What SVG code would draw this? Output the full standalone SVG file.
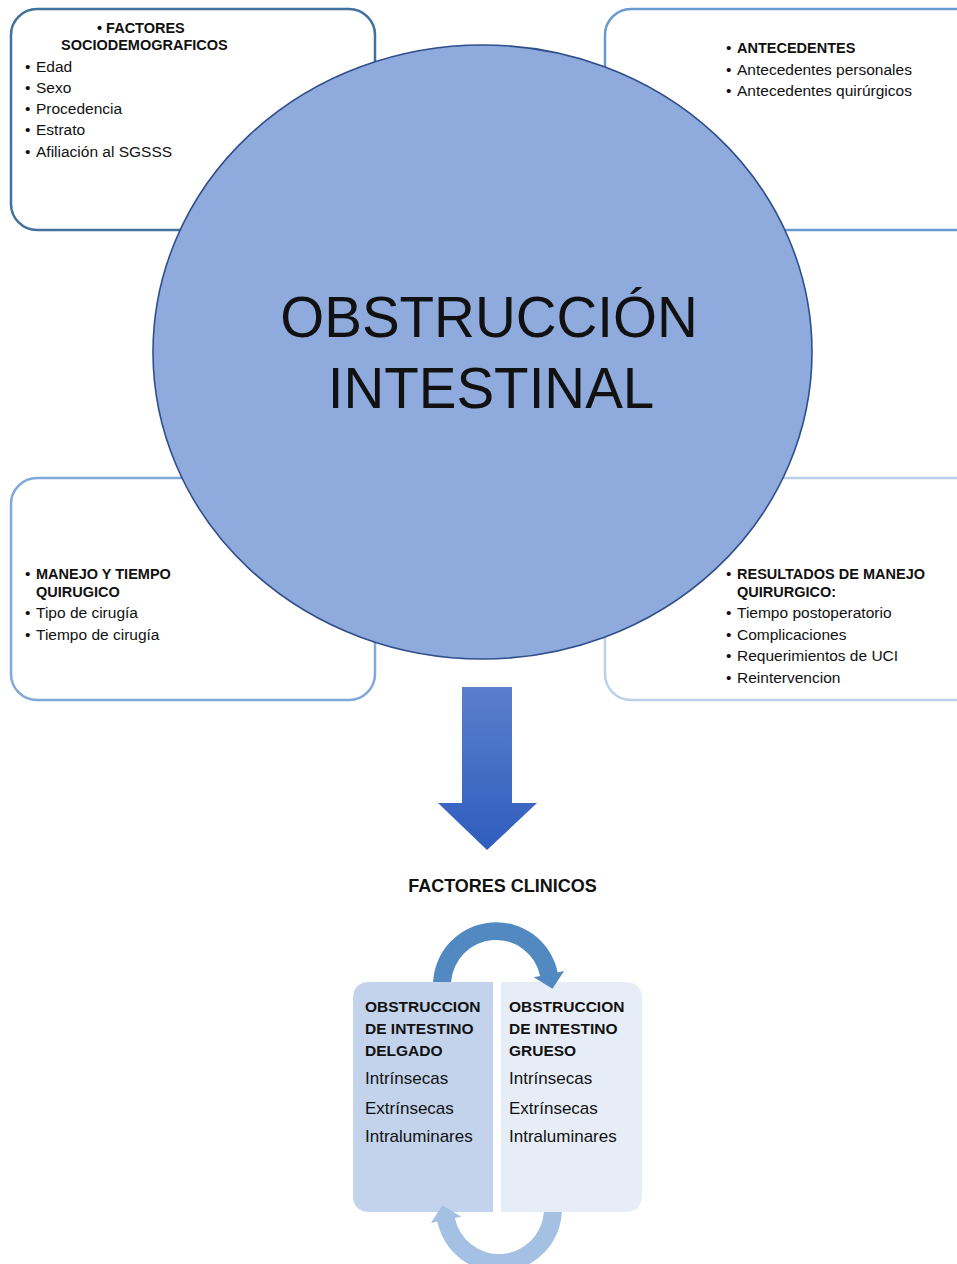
<svg xmlns="http://www.w3.org/2000/svg" width="957" height="1264" viewBox="0 0 957 1264">
<defs>
<style>
.box{fill:#ffffff;stroke-width:2.5}
.t{font-family:"Liberation Sans",Arial,sans-serif;fill:#111111}
.r{font-size:15.5px}
.b{font-size:14.5px;font-weight:bold}
.pb{font-size:15.5px;font-weight:bold}
.pr{font-size:17px}
</style>
<linearGradient id="gArrow" x1="0" y1="0" x2="0" y2="1">
<stop offset="0" stop-color="#5A7FCB"/>
<stop offset="1" stop-color="#2F5DBE"/>
</linearGradient>
<path id="curve" d="M 433.1 982 A 63 63 0 0 1 557.7 972.4 L 564.1 971.1 L 552.5 988.7 L 533.7 977.3 L 540.1 976 A 45 45 0 0 0 451.1 982 Z"/>
</defs>
<rect width="957" height="1264" fill="#ffffff"/>

<g id="box-sociodemograficos">
<rect class="box" x="11" y="9" width="364" height="221" rx="26" stroke="#41719C"/>
<text class="t b" x="97" y="33">• FACTORES</text>
<text class="t b" x="61" y="50">SOCIODEMOGRAFICOS</text>
<text class="t r" x="25" y="72">•</text><text class="t r" x="36" y="72">Edad</text>
<text class="t r" x="25" y="93">•</text><text class="t r" x="36" y="93">Sexo</text>
<text class="t r" x="25" y="114">•</text><text class="t r" x="36" y="114">Procedencia</text>
<text class="t r" x="25" y="135">•</text><text class="t r" x="36" y="135">Estrato</text>
<text class="t r" x="25" y="157">•</text><text class="t r" x="36" y="157">Afiliación al SGSSS</text>
</g>

<g id="box-antecedentes">
<rect class="box" x="605" y="9" width="380" height="221" rx="26" stroke="#6A9AD0"/>
<text class="t r" x="726" y="53">•</text><text class="t b" x="737" y="53">ANTECEDENTES</text>
<text class="t r" x="726" y="75">•</text><text class="t r" x="737" y="75">Antecedentes personales</text>
<text class="t r" x="726" y="96">•</text><text class="t r" x="737" y="96">Antecedentes quirúrgicos</text>
</g>

<g id="box-manejo">
<rect class="box" x="11" y="478" width="364" height="222" rx="26" stroke="#80A8D8"/>
<text class="t r" x="25" y="579">•</text><text class="t b" x="36" y="579">MANEJO Y TIEMPO</text>
<text class="t b" x="36" y="597">QUIRUGICO</text>
<text class="t r" x="25" y="618">•</text><text class="t r" x="36" y="618">Tipo de cirugía</text>
<text class="t r" x="25" y="640">•</text><text class="t r" x="36" y="640">Tiempo de cirugía</text>
</g>

<g id="box-resultados">
<rect class="box" x="605" y="478" width="380" height="222" rx="26" stroke="#BCD0EA"/>
<text class="t r" x="726" y="579">•</text><text class="t b" x="737" y="579">RESULTADOS DE MANEJO</text>
<text class="t b" x="737" y="597">QUIRURGICO:</text>
<text class="t r" x="726" y="618">•</text><text class="t r" x="737" y="618">Tiempo postoperatorio</text>
<text class="t r" x="726" y="640">•</text><text class="t r" x="737" y="640">Complicaciones</text>
<text class="t r" x="726" y="661">•</text><text class="t r" x="737" y="661">Requerimientos de UCI</text>
<text class="t r" x="726" y="683">•</text><text class="t r" x="737" y="683">Reintervencion</text>
</g>

<g id="circle-obstruccion">
<ellipse cx="482.5" cy="352" rx="329.5" ry="307" fill="#8FAADC" stroke="#2F4E8C" stroke-width="1.6"/>
<text class="t" x="489" y="337" font-size="56.5" text-anchor="middle" fill="#000000">OBSTRUCCIÓN</text>
<text class="t" x="491" y="408" font-size="56.5" text-anchor="middle" fill="#000000">INTESTINAL</text>
</g>

<g id="label-factores-clinicos">
<text class="t" x="502.5" y="892" font-size="18" font-weight="bold" text-anchor="middle">FACTORES CLINICOS</text>
</g>

<g id="panel-delgado">
<path d="M 493 982 L 493 1212 L 370 1212 Q 353 1212 353 1195 L 353 999 Q 353 982 370 982 Z" fill="#C2D3EB"/>
<text class="t pb" x="365" y="1012">OBSTRUCCION</text>
<text class="t pb" x="365" y="1034">DE INTESTINO</text>
<text class="t pb" x="365" y="1056">DELGADO</text>
<text class="t pr" x="365" y="1084">Intrínsecas</text>
<text class="t pr" x="365" y="1114">Extrínsecas</text>
<text class="t pr" x="365" y="1142">Intraluminares</text>
</g>

<g id="panel-grueso">
<path d="M 501 982 L 625 982 Q 642 982 642 999 L 642 1195 Q 642 1212 625 1212 L 501 1212 Z" fill="#E7EDF7"/>
<text class="t pb" x="509" y="1012">OBSTRUCCION</text>
<text class="t pb" x="509" y="1034">DE INTESTINO</text>
<text class="t pb" x="509" y="1056">GRUESO</text>
<text class="t pr" x="509" y="1084">Intrínsecas</text>
<text class="t pr" x="509" y="1114">Extrínsecas</text>
<text class="t pr" x="509" y="1142">Intraluminares</text>
</g>

<g id="connectors">
<path d="M 462 687 L 512 687 L 512 803 L 537 803 L 487 850 L 438 803 L 462 803 Z" fill="url(#gArrow)"/>
<use href="#curve" fill="#5189C0"/>
<use href="#curve" fill="#A4C0E3" transform="rotate(180 497.5 1097)"/>
</g>
</svg>
